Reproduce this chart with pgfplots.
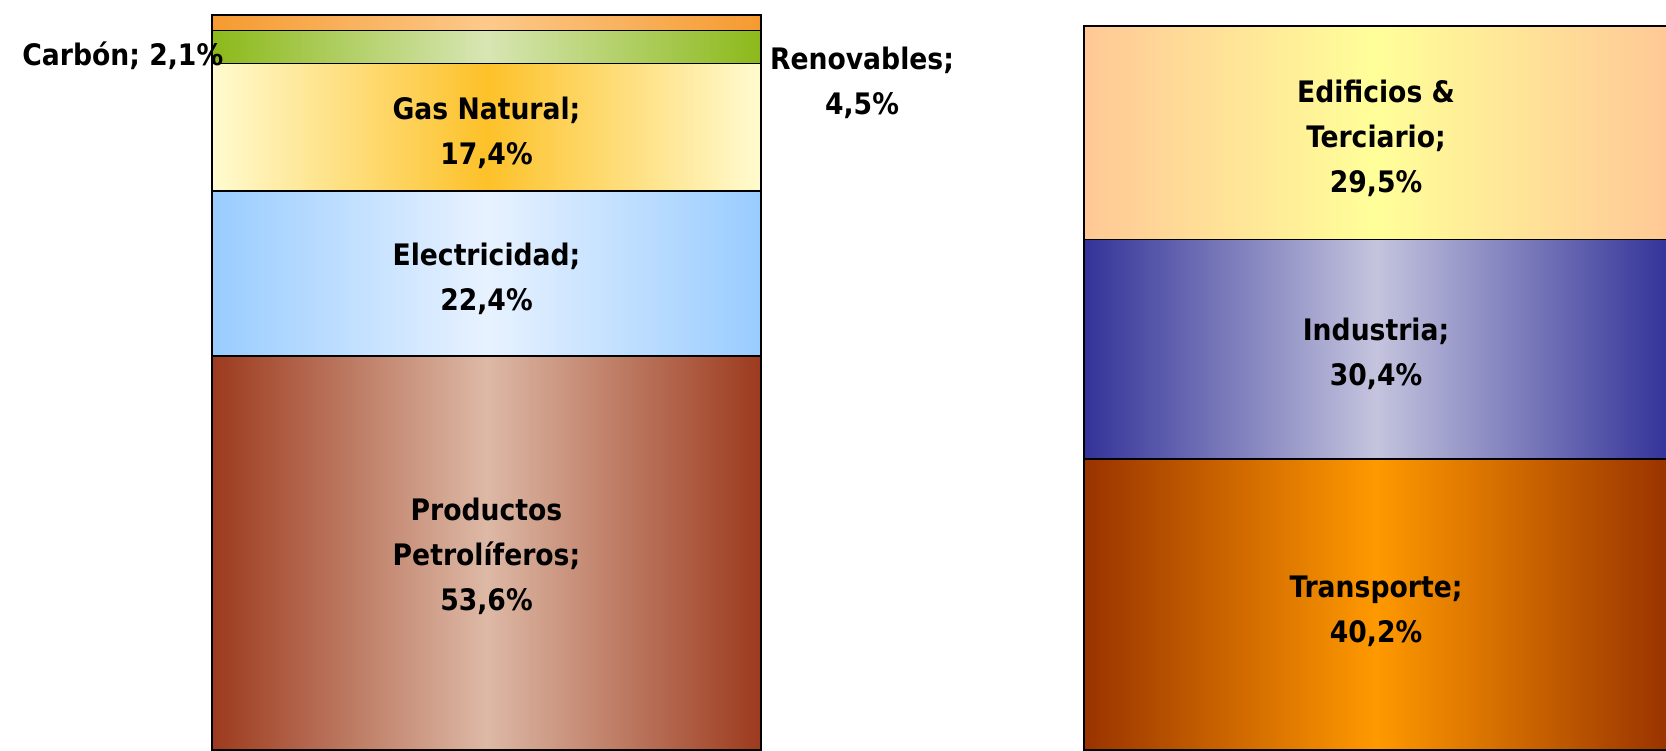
\documentclass[border=0pt]{standalone}
\usepackage{fontspec}
\setmainfont{DejaVu Sans Condensed}
\usepackage{pgfplots}
\pgfplotsset{compat=1.18}
\definecolor{prodE}{RGB}{156,58,30}
\definecolor{prodC}{RGB}{221,185,166}
\definecolor{elecE}{RGB}{153,204,255}
\definecolor{elecC}{RGB}{232,242,255}
\definecolor{gasE}{RGB}{255,251,208}
\definecolor{gasC}{RGB}{253,193,41}
\definecolor{renE}{RGB}{140,185,26}
\definecolor{renC}{RGB}{216,230,180}
\definecolor{carE}{RGB}{245,154,48}
\definecolor{carC}{RGB}{253,201,138}
\definecolor{ediE}{RGB}{255,200,150}
\definecolor{ediC}{RGB}{255,255,153}
\definecolor{indE}{RGB}{51,51,153}
\definecolor{indC}{RGB}{196,196,222}
\definecolor{traE}{RGB}{153,51,0}
\definecolor{traC}{RGB}{255,153,0}
\newcommand{\lbl}{\fontsize{7.4}{11.25}\selectfont\bfseries}
\begin{document}
\begin{tikzpicture}
\useasboundingbox (0,0) rectangle (416.5pt,187.5pt);
% left bar
\begin{axis}[
  at={(0,0)}, anchor=south west,
  scale only axis, width=416.5pt, height=187.5pt,
  xmin=0, xmax=1666, ymin=0, ymax=102.04,
  hide axis, clip=true,
  ybar stacked, bar width=549,
  every axis plot/.append style={draw=black, line width=0.45pt},
]
\addplot[left color=prodE, right color=prodE, middle color=prodC] coordinates {(486.5,53.6)};
\addplot[left color=elecE, right color=elecE, middle color=elecC] coordinates {(486.5,22.4)};
\addplot[left color=gasE, right color=gasE, middle color=gasC] coordinates {(486.5,17.4)};
\addplot[left color=renE, right color=renE, middle color=renC] coordinates {(486.5,4.5)};
\addplot[left color=carE, right color=carE, middle color=carC] coordinates {(486.5,2.1)};
\coordinate (gas) at (axis cs:486.5,84.0);
\coordinate (ele) at (axis cs:486.5,64.1);
\coordinate (pro) at (axis cs:486.5,26.3);
\coordinate (car) at (axis cs:224,94.4);
\coordinate (ren) at (axis cs:862,90.7);
\end{axis}
% right bar
\begin{axis}[
  at={(0,0)}, anchor=south west,
  scale only axis, width=416.5pt, height=187.5pt,
  xmin=0, xmax=1666, ymin=0, ymax=103.73,
  hide axis, clip=true,
  ybar stacked, bar width=584,
  every axis plot/.append style={draw=black, line width=0.45pt},
]
\addplot[left color=traE, right color=traE, middle color=traC] coordinates {(1376,40.2)};
\addplot[left color=indE, right color=indE, middle color=indC] coordinates {(1376,30.4)};
\addplot[left color=ediE, right color=ediE, middle color=ediC] coordinates {(1376,29.5)};
\coordinate (edi) at (axis cs:1376,84.6);
\coordinate (ind) at (axis cs:1376,54.8);
\coordinate (tra) at (axis cs:1376,19.2);
\end{axis}
\node[align=center, font=\lbl] at (gas) {Gas Natural;\\17,4\%};
\node[align=center, font=\lbl] at (ele) {Electricidad;\\22,4\%};
\node[align=center, font=\lbl] at (pro) {Productos\\Petrolíferos;\\53,6\%};
\node[anchor=east, inner sep=0pt, font=\lbl] at (car) {Carbón; 2,1\%};
\node[align=center, font=\lbl] at (ren) {Renovables;\\4,5\%};
\node[align=center, font=\lbl] at (edi) {Edificios \&\\Terciario;\\29,5\%};
\node[align=center, font=\lbl] at (ind) {Industria;\\30,4\%};
\node[align=center, font=\lbl] at (tra) {Transporte;\\40,2\%};
\end{tikzpicture}
\end{document}
